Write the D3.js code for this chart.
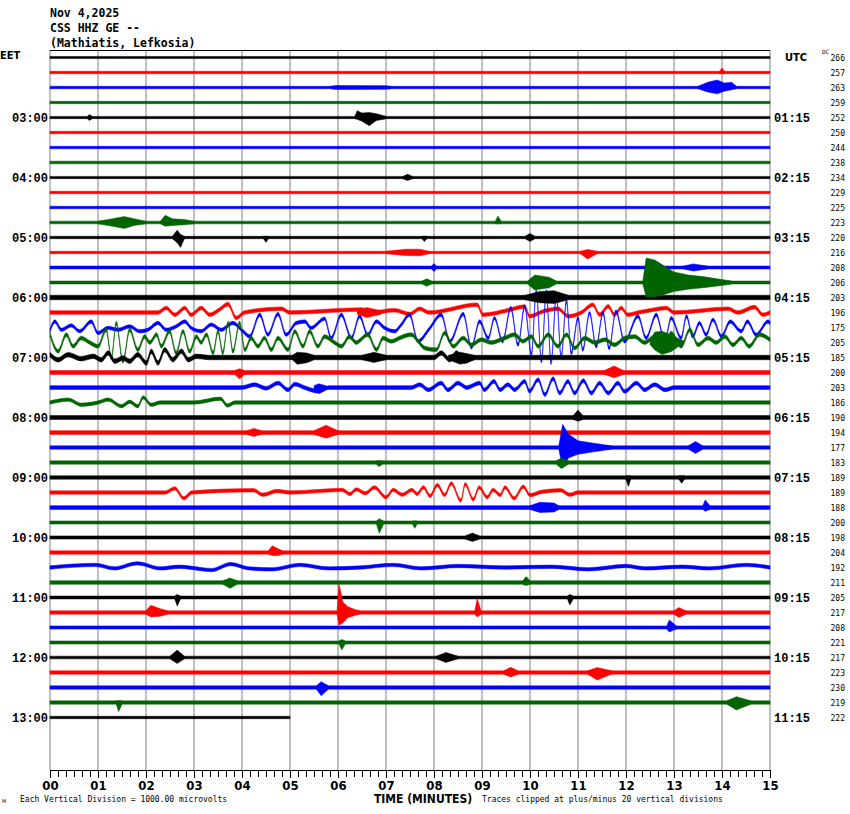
<!DOCTYPE html>
<html>
<head>
<meta charset="utf-8">
<script src="https://cdn.jsdelivr.net/npm/d3@7"></script>
<style>
body { margin: 0; background: #fff; }
svg { display: block; }
</style>
</head>
<body>
<script>
// ---- data ----
var headerLines = ["Nov 4,2025", "CSS HHZ GE --", "(Mathiatis, Lefkosia)"]
var hoursEET = ["03:00", "04:00", "05:00", "06:00", "07:00", "08:00", "09:00", "10:00", "11:00", "12:00", "13:00"]
var hoursUTC = ["01:15", "02:15", "03:15", "04:15", "05:15", "06:15", "07:15", "08:15", "09:15", "10:15", "11:15"]
var minuteLabels = ["00", "01", "02", "03", "04", "05", "06", "07", "08", "09", "10", "11", "12", "13", "14", "15"]
var clipCounts = [266, 257, 263, 259, 252, 250, 244, 238, 234, 229, 225, 223, 220, 216, 208, 206,
                  203, 196, 175, 205, 185, 200, 203, 186, 190, 194, 177, 183, 189, 189, 188, 200,
                  198, 204, 192, 211, 205, 217, 208, 221, 217, 223, 230, 219, 222]
// typical background noise half-amplitude of each trace, microvolts
var noiseUV = [70, 80, 80, 80, 75, 80, 80, 90, 75, 80, 80, 90, 80, 80, 95, 100,
               150, 120, 110, 125, 150, 130, 125, 110, 130, 125, 110, 110, 110, 110, 125, 105,
               105, 110, 110, 120, 95, 110, 105, 105, 90, 110, 110, 110, 80]
var lastTraceMinutes = 5

// long period waves: [minute, microvolts] at the crests and troughs
var wave17 = [[0, 0], [2.25, 0], [2.42, 300], [2.6, -150], [2.81, 300], [2.94, -150], [3.15, 300], [3.33, -150],
  [3.53, 190], [3.71, 560], [3.88, -370], [4.05, 0], [4.82, 250], [5.0, 0], [6.49, 200], [6.7, 0], [7.18, 150],
  [7.5, -100], [7.7, 250], [7.9, 0], [8.9, 520], [9.02, -150], [9.54, 150], [9.89, 400], [9.99, -250], [10.3, 100],
  [10.58, 250], [10.8, -250], [11.07, 0], [11.31, 520], [11.45, -150], [11.63, 410], [11.76, -150], [11.9, 300],
  [12.04, -150], [12.25, 0], [12.6, 200], [12.84, 300], [13.0, 0], [14.13, 250], [14.33, 0], [14.68, 360],
  [14.85, -150], [15, 0]]
var wave18 = [[0, -210], [0.1, 400], [0.24, -150], [0.44, 140], [0.62, -250], [0.86, 400], [1.0, -370], [1.21, -30],
  [1.42, -150], [1.66, 80], [1.87, -250], [2.04, -150], [2.25, 300], [2.42, -150], [2.63, 80], [2.81, 400],
  [2.94, -30], [3.15, -250], [3.36, 190], [3.57, -150], [3.81, 300], [4.02, -250], [4.16, -590], [4.37, 850],
  [4.54, -480], [4.75, 900], [4.92, -480], [5.13, 300], [5.31, 400], [5.44, -30], [5.72, 590], [5.86, -700],
  [6.07, 850], [6.28, -700], [6.45, 750], [6.62, -480], [6.8, 400], [6.97, -30], [7.18, -250], [7.32, 190],
  [7.49, 850], [7.67, -920], [7.9, -100], [8.15, 850], [8.33, -920], [8.61, 900], [8.78, -1320], [8.95, 400],
  [9.13, -700], [9.26, 630], [9.43, -920], [9.6, 1300], [9.75, -1140], [9.89, 1400], [10.03, -1800], [10.13, 2400],
  [10.24, -2250], [10.34, 2400], [10.44, -2350], [10.55, 2200], [10.65, -2000], [10.76, 1750], [10.86, -1700],
  [11.0, 630], [11.1, -1480], [11.24, 960], [11.38, -1250], [11.52, 960], [11.65, -1370], [11.79, 1080],
  [11.97, -920], [12.25, 750], [12.42, -700], [12.63, 850], [12.81, -920], [12.94, 630], [13.15, -700],
  [13.26, 750], [13.39, -590], [13.53, 300], [13.67, -480], [13.81, 520], [13.99, -590], [14.17, 400],
  [14.4, -250], [14.53, 400], [14.71, -480], [14.96, 400], [15, 300]]
var wave19 = [[0, 520], [0.17, -590], [0.34, 520], [0.48, -250], [0.65, 300], [0.83, 0], [1.0, -250], [1.17, 850],
  [1.28, -1030], [1.38, 1300], [1.52, -1250], [1.66, 850], [1.83, -480], [1.97, 400], [2.08, 0], [2.22, 520],
  [2.32, -250], [2.49, 740], [2.63, -700], [2.77, 740], [2.91, -590], [3.05, 400], [3.15, 0], [3.26, 520],
  [3.4, -700], [3.5, 740], [3.6, -700], [3.71, 1300], [3.81, -590], [3.95, 1300], [4.06, -480], [4.19, 300],
  [4.33, -250], [4.47, 300], [4.61, -480], [4.75, 300], [4.96, -480], [5.1, 740], [5.27, -250], [5.41, 740],
  [5.58, -250], [5.72, 400], [5.93, 0], [6.07, -250], [6.24, 400], [6.38, 0], [6.62, 520], [6.8, -480],
  [6.94, 300], [7.11, 80], [7.28, 300], [7.53, 520], [7.67, 80], [7.81, -370], [8.05, -480], [8.22, 630],
  [8.4, -250], [8.61, 300], [8.78, -150], [8.99, 190], [9.19, 0], [9.47, 300], [9.68, 520], [9.85, 80],
  [10.03, 400], [10.17, -250], [10.38, 520], [10.58, -250], [10.76, 520], [10.93, -370], [11.14, 300],
  [11.35, 0], [11.56, 190], [11.76, -150], [11.97, 300], [12.18, 400], [12.39, 0], [12.6, 400], [12.81, -250],
  [12.94, 630], [13.15, -250], [13.33, 850], [13.5, -150], [13.71, 300], [13.88, 0], [14.06, 400], [14.23, -150],
  [14.4, 300], [14.57, -250], [14.78, 520], [15, 190]]
var wave20 = [[0, 190], [0.17, -150], [0.38, 190], [0.65, -80], [0.9, 80], [1.07, -150], [1.21, 300], [1.35, -250],
  [1.52, -30], [1.66, -250], [1.83, 190], [2.01, -370], [2.11, 410], [2.25, -370], [2.39, 520], [2.56, -150],
  [2.74, 410], [2.88, -150], [3.05, 80], [3.3, 0], [8.0, 0], [8.15, 300], [8.33, -150], [8.47, 300], [8.64, -250],
  [8.85, 0], [15, 0]]
var wave22 = [[0, 0], [4.0, 0], [4.26, 190], [4.5, -50], [4.75, 300], [4.96, -150], [5.1, 230], [5.3, 0], [5.6, -250],
  [5.8, 0], [7.53, 0], [7.7, 190], [7.88, -150], [8.15, 300], [8.29, -150], [8.5, 300], [8.68, 0], [8.95, 300],
  [9.05, -150], [9.25, 410], [9.38, -150], [9.54, 190], [9.68, -150], [9.89, 410], [9.99, -250], [10.17, 520],
  [10.31, -480], [10.48, 590], [10.62, -370], [10.79, 410], [10.93, -370], [11.11, 460], [11.28, -370],
  [11.45, 300], [11.63, -370], [11.83, 300], [11.97, -250], [12.22, 300], [12.39, -150], [12.6, 190],
  [12.81, -150], [13.01, 0], [15, 0]]
var wave23 = [[0, 0], [0.38, 190], [0.65, -150], [1.0, 0], [1.21, 190], [1.49, -250], [1.66, 50], [1.83, -250],
  [1.94, 340], [2.11, -150], [2.3, 0], [3.0, 0], [3.55, 250], [3.7, -200], [3.85, 0], [15, 0]]
var wave29 = [[0, 0], [2.4, 0], [2.6, 280], [2.79, -390], [2.95, 0], [4.24, 150], [4.44, -150], [4.73, 100],
  [5.0, 0], [6.09, 170], [6.25, -100], [6.38, 210], [6.57, -50], [6.76, 340], [7.0, -320], [7.15, 170],
  [7.34, -150], [7.54, 170], [7.65, -100], [7.78, 340], [7.92, -230], [8.07, 500], [8.22, -170], [8.36, 610],
  [8.56, -540], [8.65, 560], [8.82, -460], [8.94, 340], [9.11, -320], [9.23, 170], [9.38, -170], [9.48, 340],
  [9.67, -390], [9.86, 390], [10.0, -170], [10.25, 50], [10.64, 150], [10.83, -150], [11.0, 0], [15, 0]]
var wave34 = [[0, 0], [0.95, 170], [1.34, -60], [1.82, 280], [2.3, -60], [2.69, 50], [3.18, -120], [3.37, -170],
  [3.76, 230], [4.15, -60], [4.63, -120], [5.2, 170], [5.8, -60], [6.47, 0], [7.15, 170], [7.73, -60], [8.5, 100],
  [9.48, 0], [10.45, 50], [11.22, -120], [12.0, 100], [12.4, -60], [13.17, 50], [13.74, -60], [14.5, 170], [15, 0]]
var waveTraces = [[17, wave17], [18, wave18], [19, wave19], [20, wave20], [22, wave22], [23, wave23],
                  [29, wave29], [34, wave34]]

// short bursts: [trace, [[minute, up uV, down uV], ...]]
var bursts = [
  [1, [[13.95, 80, 80], [14.0, 300, 80], [14.05, 80, 80]]],
  [2, [[5.85, 80, 80], [5.95, 130, 130], [7.0, 120, 120], [7.1, 80, 80]]],
  [2, [[13.5, 80, 80], [13.7, 350, 300], [13.9, 500, 420], [14.05, 300, 250], [14.2, 350, 150], [14.3, 80, 80]]],
  [4, [[0.78, 75, 75], [0.82, 200, 200], [0.88, 75, 75]]],
  [4, [[6.35, 75, 75], [6.4, 450, 120], [6.5, 300, 250], [6.65, 330, 550], [6.8, 250, 200], [6.95, 120, 120], [7.0, 75, 75]]],
  [8, [[7.35, 75, 75], [7.45, 220, 200], [7.55, 75, 75]]],
  [11, [[1.0, 90, 90], [1.3, 250, 250], [1.55, 400, 400], [1.75, 250, 200], [2.0, 90, 90]]],
  [11, [[2.3, 90, 90], [2.4, 480, 250], [2.55, 250, 200], [2.8, 200, 150], [3.0, 90, 90]]],
  [11, [[9.28, 90, 90], [9.33, 440, 90], [9.4, 90, 90]]],
  [12, [[2.55, 80, 80], [2.65, 490, 350], [2.72, 200, 660], [2.8, 80, 80]]],
  [12, [[4.45, 80, 80], [4.5, 80, 330], [4.55, 80, 80]]],
  [12, [[7.75, 80, 80], [7.8, 80, 270], [7.85, 80, 80]]],
  [12, [[9.9, 80, 80], [10.0, 270, 270], [10.1, 80, 80]]],
  [13, [[7.0, 80, 80], [7.4, 220, 200], [7.7, 220, 220], [7.9, 80, 80]]],
  [13, [[11.05, 80, 80], [11.2, 200, 440], [11.4, 80, 80]]],
  [14, [[7.95, 95, 95], [8.0, 270, 270], [8.05, 95, 95]]],
  [14, [[13.2, 95, 95], [13.4, 240, 240], [13.7, 95, 95]]],
  [15, [[7.75, 100, 100], [7.85, 250, 250], [7.95, 100, 100]]],
  [15, [[9.95, 100, 100], [10.1, 500, 500], [10.4, 350, 350], [10.55, 100, 100]]],
  [15, [[12.35, 100, 100], [12.42, 1630, 970], [12.6, 1500, 970], [12.8, 1100, 800], [13.0, 700, 600], [13.3, 500, 450], [13.6, 400, 350], [14.0, 200, 200], [14.2, 100, 100]]],
  [16, [[9.9, 150, 150], [10.2, 400, 350], [10.5, 450, 400], [10.8, 150, 150]]],
  [17, [[6.4, 120, 120], [6.6, 330, 330], [6.9, 120, 120]]],
  [19, [[12.5, 125, 125], [12.6, 700, 500], [12.75, 750, 800], [12.95, 500, 600], [13.1, 250, 250], [13.2, 125, 125]]],
  [20, [[5.05, 150, 150], [5.15, 350, 450], [5.35, 300, 350], [5.5, 150, 150]]],
  [20, [[6.5, 150, 150], [6.75, 350, 330], [7.0, 150, 150]]],
  [20, [[8.3, 150, 150], [8.55, 350, 450], [8.85, 150, 150]]],
  [21, [[3.85, 130, 130], [3.95, 250, 440], [4.05, 130, 130]]],
  [21, [[11.55, 130, 130], [11.75, 440, 350], [11.95, 130, 130]]],
  [22, [[5.5, 125, 125], [5.6, 250, 400], [5.75, 125, 125]]],
  [24, [[10.9, 130, 130], [11.0, 500, 250], [11.1, 130, 130]]],
  [25, [[4.1, 125, 125], [4.25, 270, 270], [4.4, 125, 125]]],
  [25, [[5.5, 125, 125], [5.75, 490, 380], [6.0, 125, 125]]],
  [26, [[10.6, 110, 110], [10.68, 1550, 1390], [10.8, 900, 700], [11.0, 450, 450], [11.3, 300, 300], [11.7, 110, 110]]],
  [26, [[13.3, 110, 110], [13.45, 400, 400], [13.6, 110, 110]]],
  [27, [[6.8, 110, 110], [6.86, 110, 280], [6.92, 110, 110]]],
  [27, [[10.55, 110, 110], [10.65, 300, 400], [10.8, 110, 110]]],
  [28, [[12.0, 110, 110], [12.05, 110, 600], [12.1, 110, 110]]],
  [28, [[13.1, 110, 110], [13.16, 110, 390], [13.22, 110, 110]]],
  [30, [[10.0, 125, 125], [10.2, 350, 330], [10.5, 300, 300], [10.6, 125, 125]]],
  [30, [[13.6, 125, 125], [13.65, 500, 250], [13.75, 125, 125]]],
  [31, [[6.8, 105, 105], [6.86, 250, 720], [6.95, 105, 105]]],
  [31, [[7.55, 105, 105], [7.6, 105, 390], [7.65, 105, 105]]],
  [32, [[8.65, 105, 105], [8.8, 300, 270], [8.95, 105, 105]]],
  [33, [[4.55, 110, 110], [4.63, 450, 200], [4.75, 250, 200], [4.85, 110, 110]]],
  [35, [[3.6, 120, 120], [3.75, 300, 390], [3.9, 120, 120]]],
  [35, [[9.85, 120, 120], [9.92, 400, 200], [10.0, 120, 120]]],
  [36, [[2.6, 95, 95], [2.65, 200, 570], [2.72, 95, 95]]],
  [36, [[10.78, 95, 95], [10.83, 200, 500], [10.9, 95, 95]]],
  [37, [[2.0, 110, 110], [2.1, 480, 300], [2.3, 250, 250], [2.45, 110, 110]]],
  [37, [[5.98, 110, 110], [6.02, 1950, 850], [6.1, 700, 700], [6.2, 400, 350], [6.35, 200, 200], [6.45, 110, 110]]],
  [37, [[8.85, 110, 110], [8.9, 940, 300], [8.98, 110, 110]]],
  [37, [[13.0, 110, 110], [13.1, 330, 330], [13.25, 110, 110]]],
  [38, [[12.85, 105, 105], [12.9, 500, 300], [13.05, 105, 105]]],
  [39, [[6.02, 105, 105], [6.08, 200, 500], [6.15, 105, 105]]],
  [40, [[2.5, 90, 90], [2.65, 500, 400], [2.8, 90, 90]]],
  [40, [[8.05, 90, 90], [8.25, 330, 330], [8.5, 90, 90]]],
  [41, [[9.45, 110, 110], [9.6, 350, 300], [9.75, 110, 110]]],
  [41, [[11.2, 110, 110], [11.4, 330, 500], [11.7, 110, 110]]],
  [42, [[5.55, 110, 110], [5.65, 390, 550], [5.8, 110, 110]]],
  [43, [[1.38, 110, 110], [1.43, 110, 610], [1.5, 110, 110]]],
  [43, [[14.1, 110, 110], [14.3, 390, 500], [14.6, 110, 110]]]
]

var traceColors = ["#000000", "#ff0000", "#0000ff", "#006400"]
var nTraces = clipCounts.length

// scales: minutes across, vertical divisions (1 division = 1000 uV) down
var x = d3.scaleLinear().domain([0, 15]).range([50, 770])
var y = d3.scaleLinear().domain([0, 48]).range([50, 770])
function yAt(trace, uv) { return y(trace + 0.5 - uv / 1000) }

var svg = d3.select("body").append("svg")
    .attr("width", 850)
    .attr("height", 814)

// header
svg.append("g").selectAll("text")
    .data(headerLines)
    .enter().append("text")
    .attr("x", 50)
    .attr("y", function(d, i) { return 17 + i * 15 })
    .style("font", "bold 11.5px 'DejaVu Sans Mono'")
    .text(function(d) { return d })

// minute grid
svg.append("g").selectAll("line")
    .data(d3.range(0, 16))
    .enter().append("line")
    .attr("x1", function(d) { return x(d) })
    .attr("x2", function(d) { return x(d) })
    .attr("y1", y(0))
    .attr("y2", y(48))
    .attr("stroke", "#808080")
    .attr("stroke-width", 1)

svg.append("line")
    .attr("x1", x(0)).attr("x2", x(15))
    .attr("y1", y(0) + 0.5).attr("y2", y(0) + 0.5)
    .attr("stroke", "#000")

// traces
var waveByTrace = {}
waveTraces.forEach(function(w) { waveByTrace[w[0]] = w[1] })

var traces = svg.append("g")
d3.range(nTraces).forEach(function(i) {
  var col = traceColors[i % 4]
  var pts = waveByTrace[i] || [[0, 0], [i === nTraces - 1 ? lastTraceMinutes : 15, 0]]
  var n = noiseUV[i]
  var band = d3.area()
      .x(function(d) { return x(d[0]) })
      .y0(function(d) { return yAt(i, d[1] - n) })
      .y1(function(d) { return yAt(i, d[1] + n) })
      .curve(d3.curveMonotoneX)
  traces.append("path")
      .attr("d", band(pts))
      .attr("fill", col)
      .attr("stroke", col)
      .attr("stroke-width", 0.5)
      .attr("stroke-linejoin", "round")
})

// bursts
var burstArea = d3.area()
    .x(function(d) { return x(d[0]) })
traces.selectAll(".burst")
    .data(bursts)
    .enter().append("path")
    .attr("class", "burst")
    .attr("d", function(b) {
      return burstArea
          .y0(function(d) { return yAt(b[0], -d[2]) })
          .y1(function(d) { return yAt(b[0], d[1]) })(b[1])
    })
    .attr("fill", function(b) { return traceColors[b[0] % 4] })
    .attr("stroke", function(b) { return traceColors[b[0] % 4] })
    .attr("stroke-width", 0.5)

// left and right hour labels
svg.append("text")
    .attr("x", 0).attr("y", 58.5)
    .style("font", "bold 11px 'DejaVu Sans Condensed'")
    .text("EET")
svg.append("text")
    .attr("x", 785).attr("y", 61)
    .style("font", "bold 11px 'DejaVu Sans Condensed'")
    .text("UTC")

svg.append("g").selectAll("text")
    .data(hoursEET)
    .enter().append("text")
    .attr("x", 48)
    .attr("y", function(d, k) { return y(4 * (k + 1) + 0.5) + 4 })
    .attr("text-anchor", "end")
    .style("font", "bold 12px 'Liberation Mono'")
    .text(function(d) { return d })

svg.append("g").selectAll("text")
    .data(hoursUTC)
    .enter().append("text")
    .attr("x", 774)
    .attr("y", function(d, k) { return y(4 * (k + 1) + 0.5) + 4 })
    .style("font", "bold 12px 'Liberation Mono'")
    .text(function(d) { return d })

// clip counts
svg.append("text")
    .attr("x", 822).attr("y", 54)
    .style("font", "6px 'DejaVu Sans Mono'")
    .text("DC")
svg.append("g").selectAll("text")
    .data(clipCounts)
    .enter().append("text")
    .attr("x", 845)
    .attr("y", function(d, i) { return y(i + 0.5) + 3 })
    .attr("text-anchor", "end")
    .style("font", "8px 'DejaVu Sans Mono'")
    .text(function(d) { return d })

// time axis
svg.append("g")
    .attr("transform", "translate(0," + y(48) + ")")
    .call(d3.axisBottom(x).tickValues(d3.range(0, 91).map(function(k) { return k / 6 }))
      .tickSize(7).tickSizeOuter(0).tickFormat(""))
var major = svg.append("g")
    .attr("transform", "translate(0," + y(48) + ")")
    .call(d3.axisBottom(x).tickValues(d3.range(0, 16))
      .tickSize(8).tickSizeOuter(0).tickPadding(3)
      .tickFormat(function(d) { return minuteLabels[d] }))
major.selectAll("text")
    .style("font", "bold 13px 'DejaVu Sans Condensed'")
    .attr("fill", "#000")
svg.selectAll(".domain").attr("stroke", "#000")
svg.selectAll(".tick line").attr("stroke", "#000")

svg.append("text")
    .attr("x", 423).attr("y", 803)
    .attr("text-anchor", "middle")
    .style("font", "bold 12px 'DejaVu Sans Condensed'")
    .text("TIME (MINUTES)")
svg.append("text")
    .attr("x", 20).attr("y", 802)
    .style("font", "8px 'DejaVu Sans Mono'")
    .text("Each Vertical Division = 1000.00 microvolts")
svg.append("text")
    .attr("x", 482).attr("y", 802)
    .style("font", "8px 'DejaVu Sans Mono'")
    .text("Traces clipped at plus/minus 20 vertical divisions")
svg.append("text")
    .attr("x", 2).attr("y", 803)
    .style("font", "5px 'DejaVu Sans'")
    .text("M")
</script>
</body>
</html>
